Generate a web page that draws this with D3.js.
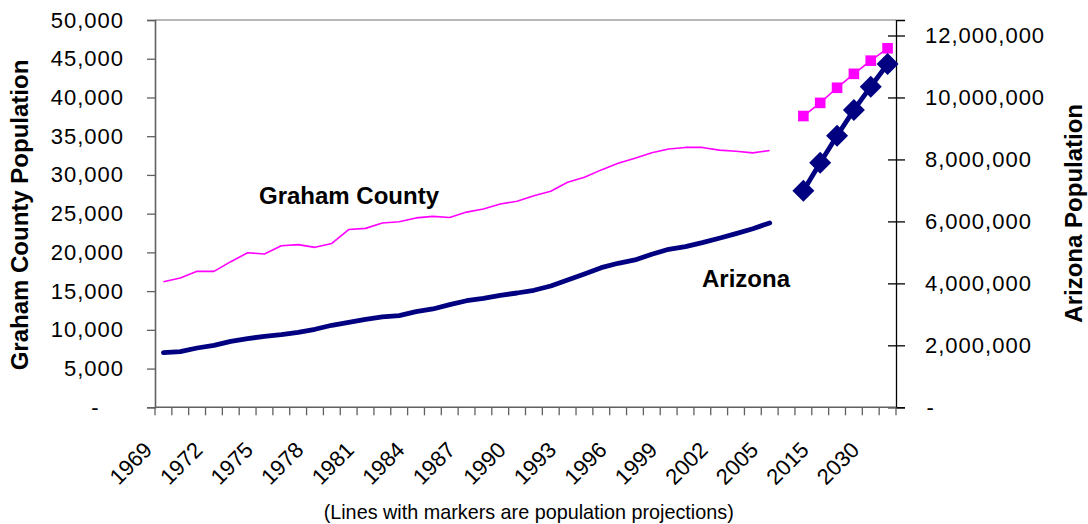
<!DOCTYPE html>
<html>
<head>
<meta charset="utf-8">
<script src="https://cdn.jsdelivr.net/npm/d3@7/dist/d3.min.js"></script>
<style>
  html, body { margin: 0; padding: 0; background: #fff; }
  svg { display: block; font-family: "Liberation Sans", Arial, sans-serif; }
</style>
</head>
<body>
<svg id="chart" width="1088" height="524"></svg>
<script>
// Category axis: annual estimates, one spacer slot, then five-year projections
const histYears = ["1969","1970","1971","1972","1973","1974","1975","1976","1977","1978",
  "1979","1980","1981","1982","1983","1984","1985","1986","1987","1988","1989","1990",
  "1991","1992","1993","1994","1995","1996","1997","1998","1999","2000","2001","2002",
  "2003","2004","2005"];
const spacer = [""];
const projYears = ["2010","2015","2020","2025","2030","2035"];
const categories = histYears.concat(spacer, projYears);

// Graham County population (left axis)
const grahamHist = [16200, 16700, 17550, 17550, 18800, 19950, 19800, 20850, 21000, 20650,
  21150, 22950, 23100, 23800, 23950, 24450, 24650, 24500, 25200, 25600, 26250, 26600,
  27300, 27900, 29050, 29700, 30650, 31500, 32150, 32850, 33350, 33550, 33550, 33200,
  33050, 32850, 33150];
const grahamProj = [37600, 39300, 41250, 43050, 44750, 46350];

// Arizona population (right axis)
const arizonaHist = [1762000, 1795000, 1914000, 2001000, 2130000, 2214000, 2292000, 2343000,
  2421000, 2518000, 2647000, 2744000, 2840000, 2915000, 2957000, 3086000, 3173000, 3312000,
  3440000, 3518000, 3615000, 3689000, 3777000, 3915000, 4109000, 4303000, 4506000, 4648000,
  4755000, 4939000, 5100000, 5184000, 5313000, 5455000, 5604000, 5765000, 5949000];
const arizonaProj = [6992000, 7896000, 8767000, 9597000, 10349000, 11081000];

const leftTicks = [0, 5000, 10000, 15000, 20000, 25000, 30000, 35000, 40000, 45000, 50000];
const rightTicks = [0, 2000000, 4000000, 6000000, 8000000, 10000000, 12000000];

const svg = d3.select("#chart");
const plot = { left: 155, right: 896, top: 20, bottom: 407.3 };

const x = d3.scaleBand().domain(categories).range([plot.left, plot.right]);
const cx = c => x(c) + x.bandwidth() / 2;
const yL = d3.scaleLinear().domain([0, 50000]).range([plot.bottom, plot.top]);
const yR = d3.scaleLinear().domain([0, 12500000]).range([plot.bottom, plot.top]);

const fmt = d3.format(",");
const LABEL_FONT = 22;

// top frame line
svg.append("line")
  .attr("x1", plot.left).attr("x2", plot.right)
  .attr("y1", plot.top).attr("y2", plot.top)
  .attr("stroke", "#a0a0a0").attr("stroke-width", 1.3);

// Left axis
const gL = svg.append("g").attr("transform", `translate(${plot.left},0)`)
  .call(d3.axisLeft(yL).tickValues(leftTicks).tickSize(8).tickPadding(23)
    .tickFormat(d => d === 0 ? "-" : fmt(d)));
gL.select(".domain").attr("stroke", "#606060").attr("stroke-width", 1.6);
gL.selectAll(".tick line").attr("stroke", "#606060").attr("stroke-width", 1.3);
gL.selectAll(".tick text")
  .attr("font-size", LABEL_FONT).attr("fill", "#000")
  .attr("font-family", "Liberation Sans, Arial, sans-serif")
  .style("letter-spacing", "1px");
gL.selectAll(".tick").filter(d => d === 0).select("text").attr("dx", -24.5);

// Right axis (cross ticks)
const gR = svg.append("g").attr("transform", `translate(${plot.right},0)`)
  .call(d3.axisRight(yR).tickValues(rightTicks).tickSize(9).tickPadding(20)
    .tickFormat(d => d === 0 ? "-" : fmt(d)));
gR.select(".domain").attr("stroke", "#000").attr("stroke-width", 1.3);
gR.selectAll(".tick line").attr("x1", -8).attr("stroke", "#000").attr("stroke-width", 1.3);
gR.selectAll(".tick text")
  .attr("font-size", LABEL_FONT).attr("fill", "#000")
  .attr("font-family", "Liberation Sans, Arial, sans-serif")
  .style("letter-spacing", "1px");
gR.selectAll(".tick").filter(d => d === 0).select("text").attr("dx", 1.5);

// Bottom category axis: ticks between categories
const gB = svg.append("g");
gB.append("line")
  .attr("x1", plot.left).attr("x2", plot.right)
  .attr("y1", plot.bottom).attr("y2", plot.bottom)
  .attr("stroke", "#606060").attr("stroke-width", 1.6);
const bounds = categories.map(c => x(c)).concat([plot.right]);
gB.selectAll("line.tk").data(bounds).join("line").attr("class", "tk")
  .attr("x1", d => d).attr("x2", d => d)
  .attr("y1", plot.bottom).attr("y2", plot.bottom + 8)
  .attr("stroke", "#606060").attr("stroke-width", 1.3);
gB.selectAll("text").data(categories.filter((c, i) => i % 3 === 0)).join("text")
  .attr("transform", d => `translate(${cx(d) - 10},${plot.bottom + 44}) rotate(-45)`)
  .attr("text-anchor", "end")
  .attr("font-size", 22)
  .text(d => d);

// Series lines
const lineL = d3.line().x(d => cx(d[0])).y(d => yL(d[1]));
const lineR = d3.line().x(d => cx(d[0])).y(d => yR(d[1]));

const grahamH = histYears.map((c, i) => [c, grahamHist[i]]);
const grahamP = projYears.map((c, i) => [c, grahamProj[i]]);
const azH = histYears.map((c, i) => [c, arizonaHist[i]]);
const azP = projYears.map((c, i) => [c, arizonaProj[i]]);

svg.append("path").datum(grahamH).attr("d", lineL)
  .attr("fill", "none").attr("stroke", "#FF00FF").attr("stroke-width", 1.6)
  .attr("stroke-linejoin", "round");

svg.append("path").datum(azH).attr("d", lineR)
  .attr("fill", "none").attr("stroke", "#000080").attr("stroke-width", 4.8)
  .attr("stroke-linejoin", "round").attr("stroke-linecap", "round");

// Projections with markers
svg.append("path").datum(grahamP).attr("d", lineL)
  .attr("fill", "none").attr("stroke", "#FF00FF").attr("stroke-width", 1.6);
svg.selectAll("rect.gm").data(grahamP).join("rect").attr("class", "gm")
  .attr("x", d => cx(d[0]) - 5.3).attr("y", d => yL(d[1]) - 5.3)
  .attr("width", 10.6).attr("height", 10.6)
  .attr("fill", "#FF00FF");

svg.append("path").datum(azP).attr("d", lineR)
  .attr("fill", "none").attr("stroke", "#000080").attr("stroke-width", 4.8);
const dia = d3.symbol().type(d3.symbolSquare).size(242);
svg.selectAll("path.am").data(azP).join("path").attr("class", "am")
  .attr("d", dia)
  .attr("transform", d => `translate(${cx(d[0])},${yR(d[1])}) rotate(45)`)
  .attr("fill", "#000080");

// Series labels
svg.append("text").attr("x", 259).attr("y", 203.5)
  .attr("font-size", 24).attr("font-weight", "bold").text("Graham County");
svg.append("text").attr("x", 702).attr("y", 287)
  .attr("font-size", 24).attr("font-weight", "bold").text("Arizona");

// Axis titles
svg.append("text").attr("transform", "translate(27.5,215) rotate(-90)")
  .attr("text-anchor", "middle").attr("font-size", 24).attr("font-weight", "bold")
  .text("Graham County Population");
svg.append("text").attr("transform", "translate(1082,213.3) rotate(-90)")
  .attr("text-anchor", "middle").attr("font-size", 24).attr("font-weight", "bold")
  .text("Arizona Population");

// Footnote
svg.append("text").attr("x", 528.7).attr("y", 519)
  .attr("text-anchor", "middle").attr("font-size", 19.8)
  .text("(Lines with markers are population projections)");
</script>
</body>
</html>
